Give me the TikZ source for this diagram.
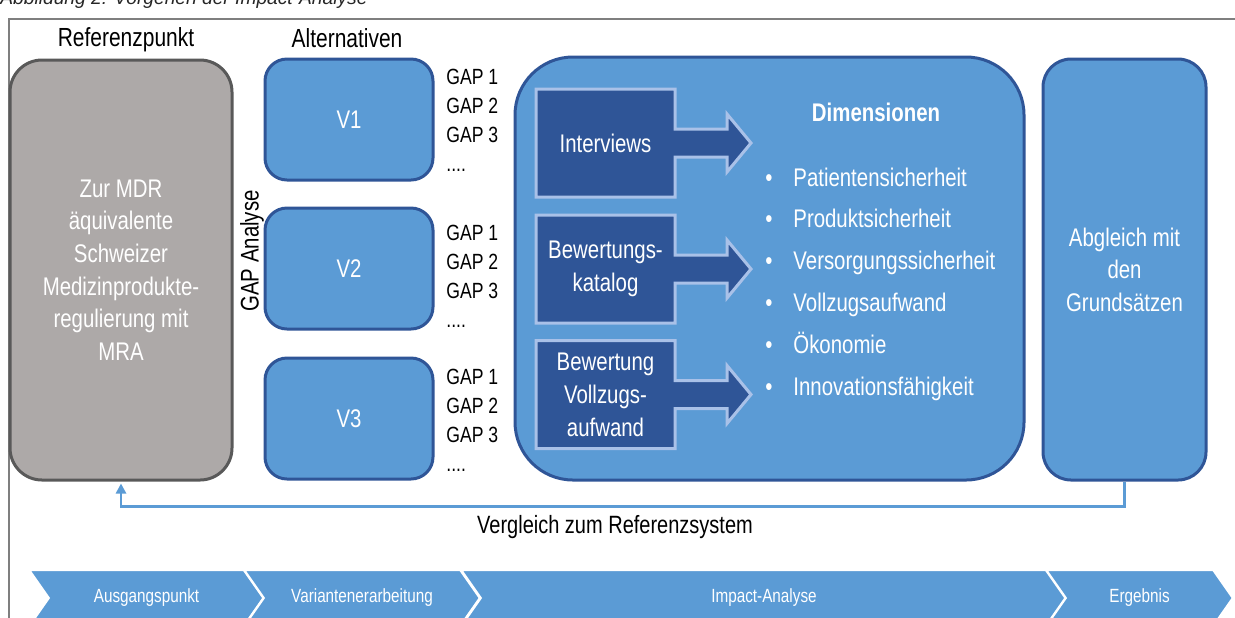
\documentclass[tikz,border=0pt]{standalone}
\usepackage{fontspec}
\setmainfont{Liberation Sans}[FakeStretch=0.8]
\newfontfamily\capfont{Liberation Sans}
\usetikzlibrary{shapes.symbols,arrows.meta}

\definecolor{boxblue}{HTML}{5B9BD5}
\definecolor{edgeblue}{HTML}{2F5597}
\definecolor{darkblue}{HTML}{2F5597}
\definecolor{lightedge}{HTML}{A9C1E8}
\definecolor{refgray}{HTML}{ADA9A8}
\definecolor{refedge}{HTML}{595959}
\definecolor{framegray}{HTML}{7F7F7F}

\begin{document}
\begin{tikzpicture}[x=0.5pt, y=-0.5pt,
  head/.style = {font=\fontsize{13.1}{15}\selectfont},
  ref/.style = {draw=refedge, fill=refgray, line width=1.5pt, rounded corners=16pt, minimum width=111pt, minimum height=210pt, text=white, align=center, font=\fontsize{12.75}{16.3}\selectfont},
  var/.style = {draw=edgeblue, fill=boxblue, line width=1.5pt, rounded corners=11pt, minimum width=84pt, minimum height=60.5pt, text=white, font=\fontsize{12.75}{15}\selectfont},
  gaps/.style = {anchor=north west, inner sep=0pt, align=left, font=\fontsize{11}{14.5}\selectfont},
  impact/.style = {draw=edgeblue, fill=boxblue, line width=1.5pt, rounded corners=29pt, minimum width=254.5pt, minimum height=211.5pt},
  srcline/.style = {draw=lightedge, fill=darkblue, line width=1.5pt},
  src/.style = {text=white, align=center, font=\fontsize{12.75}{16.5}\selectfont},
  dim/.style = {anchor=base west, inner sep=0pt, text=white, font=\fontsize{12.75}{15}\selectfont},
  result/.style = {draw=edgeblue, fill=boxblue, line width=1.5pt, rounded corners=14pt, minimum width=81.5pt, minimum height=210.5pt, text=white, align=center, font=\fontsize{12.75}{16.3}\selectfont},
  phase/.style = {shape=signal, signal to=east, signal from=west, signal pointer angle=110, fill=boxblue, draw=white, line width=1.2pt, minimum height=28pt, inner sep=0pt, text=white, font=\fontsize{9.55}{11}\selectfont},
  back/.style = {draw=boxblue, line width=1.25pt, -{Triangle[length=5pt,width=5pt]}, shorten >=1pt}
]
\useasboundingbox (0,0) rectangle (1235,617);

% caption and frame
\node[anchor=base west, inner sep=0pt, font={\fontsize{9.6}{11}\capfont\itshape}, text=black!85] (cap) at (0,4) {Abbildung 2: Vorgehen der Impact-Analyse};
\draw[framegray, line width=0.8pt] (9,630) -- (9,19) -- (1245,19);

% reference
\node[head] (refhead) at (126,40) {Referenzpunkt};
\node[ref] (ref) at (121,270) {Zur MDR\\äquivalente\\Schweizer\\Medizinprodukte-\\regulierung mit\\MRA};
\node[rotate=90, font=\fontsize{12.75}{15}\selectfont] (gapan) at (252,251) {GAP Analyse};

% alternatives
\node[head] (althead) at (347,38) {Alternativen};
\node[var] (v1) at (349,119.5) {V1};
\node[var] (v2) at (349,268.5) {V2};
\node[var] (v3) at (349,418.5) {V3};
\node[gaps] (g1) at (446,69) {GAP 1\\GAP 2\\GAP 3\\....};
\node[gaps] (g2) at (446,225) {GAP 1\\GAP 2\\GAP 3\\....};
\node[gaps] (g3) at (446,369) {GAP 1\\GAP 2\\GAP 3\\....};

% impact analysis
\node[impact] (impact) at (769.5,268.5) {};
\foreach \y in {143,269,394.5}
  \draw[srcline] (536,\y-54) -- (675,\y-54) -- (675,\y-14) -- (727,\y-14) -- (727,\y-29) -- (751,\y)
    -- (727,\y+29) -- (727,\y+14) -- (675,\y+14) -- (675,\y+54) -- (536,\y+54) -- cycle;
\node[src] (intv) at (605.5,143) {Interviews};
\node[src] (katalog) at (605.5,269) {Bewertungs-\\katalog};
\node[src] (vollzug) at (605.5,394.5) {Bewertung\\Vollzugs-\\aufwand};
\node[text=white, font=\bfseries\fontsize{12.75}{15}\selectfont] (dimhead) at (876,112) {Dimensionen};
\foreach \t [count=\i] in {Patientensicherheit, Produktsicherheit, Versorgungssicherheit, Vollzugsaufwand, Ökonomie, Innovationsfähigkeit}
  \node[dim] (dim\i) at (793,144.2+41.8*\i) {\llap{\textbullet\hspace{10.5pt}}\t};

% result
\node[result] (result) at (1124.5,269.5) {Abgleich mit\\den\\Grundsätzen};
\draw[back] (result.south) -- ++(0,25) -| (ref.south);
\node[font=\fontsize{12.5}{15}\selectfont] (vgl) at (615,527) {Vergleich zum Referenzsystem};

% phases
\node[phase, minimum width=117.5pt] (p1) at (146.5,598) {Ausgangspunkt};
\node[phase, minimum width=118pt] (p2) at (362,598) {Variantenerarbeitung};
\node[phase, minimum width=303pt] (p3) at (764,598) {Impact-Analyse};
\node[phase, minimum width=93.5pt] (p4) at (1139.5,598) {Ergebnis};
\end{tikzpicture}
\end{document}
